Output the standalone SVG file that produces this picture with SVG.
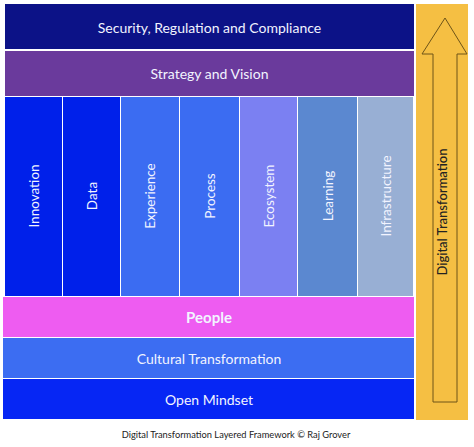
<svg xmlns="http://www.w3.org/2000/svg" width="474" height="447" viewBox="0 0 474 447">
<style>
.t{font-family:Lato,"Open Sans","Liberation Sans",sans-serif;fill:#f2f4ff;text-anchor:middle;dominant-baseline:central}
.h{font-size:14px}
.v{font-size:13.5px}
.b{font-weight:bold;font-size:15px}
.d{fill:#222}
</style>
<rect width="474" height="447" fill="#ffffff"/>
<g id="security"><rect x="5" y="4" width="409" height="45" fill="#0c1287"/><text class="t h" x="209.5" y="27">Security, Regulation and Compliance</text></g>
<g id="strategy"><rect x="5" y="51" width="409" height="45" fill="#6a3a9c"/><text class="t h" x="209.5" y="73.5">Strategy and Vision</text></g>
<g id="innovation"><rect x="5" y="97" width="57" height="199" fill="#0020ea"/><text class="t v" transform="translate(34,196) rotate(-90)">Innovation</text></g>
<g id="data"><rect x="63" y="97" width="57" height="199" fill="#0020ea"/><text class="t v" transform="translate(92,196) rotate(-90)">Data</text></g>
<g id="experience"><rect x="121" y="97" width="58" height="199" fill="#3b6cf2"/><text class="t v" transform="translate(150,196) rotate(-90)">Experience</text></g>
<g id="process"><rect x="180" y="97" width="59" height="199" fill="#3b6cf2"/><text class="t v" transform="translate(209.5,196) rotate(-90)">Process</text></g>
<g id="ecosystem"><rect x="240" y="97" width="57" height="199" fill="#7b80f2"/><text class="t v" transform="translate(268.5,196) rotate(-90)">Ecosystem</text></g>
<g id="learning"><rect x="298" y="97" width="59" height="199" fill="#5b88d0"/><text class="t v" transform="translate(327.5,196) rotate(-90)">Learning</text></g>
<g id="infrastructure"><rect x="358" y="97" width="55" height="199" fill="#98afd4"/><text class="t v" transform="translate(385.5,196) rotate(-90)">Infrastructure</text></g>
<g id="people"><rect x="3" y="297" width="411" height="40" fill="#ee5cf1"/><text class="t b" x="209" y="317">People</text></g>
<g id="cultural"><rect x="3" y="338" width="411" height="40" fill="#3c6df2"/><text class="t h" x="209" y="358">Cultural Transformation</text></g>
<g id="mindset"><rect x="3" y="379" width="411" height="40" fill="#0626f4"/><text class="t h" x="209" y="399">Open Mindset</text></g>
<g id="digital"><rect x="416" y="4" width="52" height="416" fill="#f5bf43"/><path d="M445,18 L467,54 L457,54 L457,402 L433,402 L433,54 L422,54 Z" fill="none" stroke="#6e5418" stroke-width="1"/><text class="t d" style="font-size:13px;font-weight:500" transform="translate(442,212) rotate(-90)">Digital Transformation</text></g>
<text class="t d" style="font-size:9.3px" x="236" y="434">Digital Transformation Layered Framework © Raj Grover</text>
</svg>
